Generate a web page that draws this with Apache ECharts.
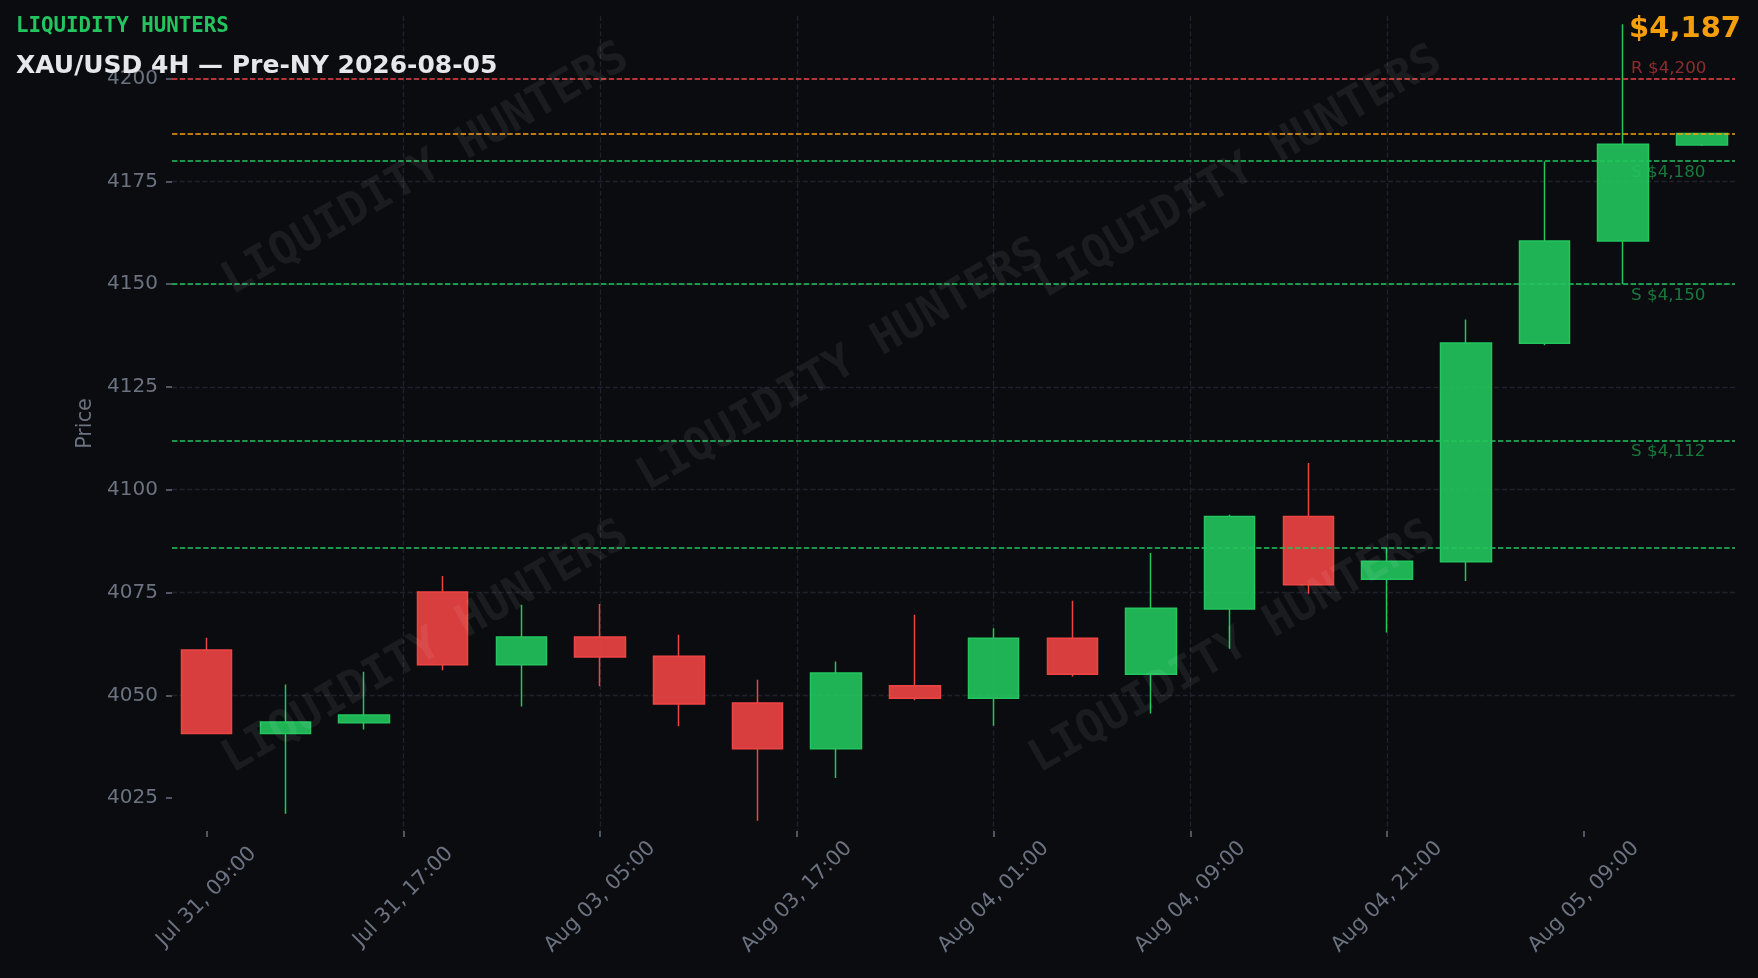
<!DOCTYPE html>
<html>
<head>
<meta charset="utf-8">
<script src="https://cdn.jsdelivr.net/npm/echarts@6/dist/echarts.min.js"></script>
<style>
html,body{margin:0;padding:0;background:#0b0c10;}
#chart{width:1758px;height:978px;}
</style>
</head>
<body>
<div id="chart"></div>
<script>
// ---- data ----
const candleTimes = ['Jul 31 09:00','Jul 31 13:00','Jul 31 17:00','Jul 31 21:00','Aug 03 01:00','Aug 03 05:00','Aug 03 09:00','Aug 03 13:00','Aug 03 17:00','Aug 03 21:00','Aug 04 01:00','Aug 04 05:00','Aug 04 09:00','Aug 04 13:00','Aug 04 17:00','Aug 04 21:00','Aug 05 01:00','Aug 05 05:00','Aug 05 09:00','Aug 05 13:00'];
const opens  = [4061.0,4040.7,4043.3,4075.1,4057.4,4064.2,4059.5,4048.1,4037.0,4052.3,4049.3,4063.9,4055.1,4071.0,4093.5,4078.2,4082.5,4135.6,4160.5,4183.8];
const closes = [4040.7,4043.5,4045.2,4057.4,4064.2,4059.3,4047.9,4037.0,4055.4,4049.3,4063.9,4055.1,4071.2,4093.5,4076.9,4082.6,4135.7,4160.5,4184.0,4186.6];
const lows   = [4040.5,4021.2,4041.7,4056.1,4047.3,4052.2,4042.5,4019.5,4029.9,4048.8,4042.6,4054.6,4045.6,4061.3,4074.7,4065.3,4077.8,4135.1,4150.0,4183.6];
const highs  = [4064.0,4052.6,4055.7,4079.0,4072.0,4072.2,4064.7,4053.8,4058.2,4069.6,4066.3,4073.0,4084.6,4093.9,4106.5,4086.0,4141.4,4179.8,4213.2,4186.8];

const xTickValues = [0, 2.5, 5, 7.5, 10, 12.5, 15, 17.5];
const xTickLabels = ['Jul 31, 09:00','Jul 31, 17:00','Aug 03, 05:00','Aug 03, 17:00','Aug 04, 01:00','Aug 04, 09:00','Aug 04, 21:00','Aug 05, 09:00'];
const yTickValues = [4025, 4050, 4075, 4100, 4125, 4150, 4175, 4200];

const resistanceLevels = [4200];
const resistanceLabels = ['R $4,200'];
const supportLevels = [4180, 4150, 4112, 4086];
const supportLabels = ['S $4,180', 'S $4,150', 'S $4,112', ''];

const brandText = 'LIQUIDITY HUNTERS';
const titleText = 'XAU/USD 4H \u2014 Pre-NY 2026-08-05';
const watermarkText = 'LIQUIDITY HUNTERS';

// ---- build ----
const GREEN = '#22c55e', RED = '#ef4444', ORANGE = '#f59e0b';
const lastClose = closes[closes.length - 1];
const priceText = '$' + Math.round(lastClose).toLocaleString('en-US');
const levelLabelX = candleTimes.length - 1 - 0.9;

const candleData = opens.map((o, i) => [i, o, closes[i], lows[i], highs[i]]);

const levelLines = [];
resistanceLevels.forEach(v => levelLines.push({ yAxis: v, lineStyle: { color: RED } }));
levelLines.push({ yAxis: lastClose, lineStyle: { color: ORANGE } });
supportLevels.forEach(v => levelLines.push({ yAxis: v, lineStyle: { color: GREEN } }));

const labelPoints = [];
resistanceLevels.forEach((v, i) => labelPoints.push({
  value: [levelLabelX, v],
  label: { formatter: resistanceLabels[i], color: 'rgba(239,68,68,0.72)', verticalAlign: 'bottom', offset: [0, -1] }
}));
supportLevels.forEach((v, i) => { if (supportLabels[i]) labelPoints.push({
  value: [levelLabelX, v],
  label: { formatter: supportLabels[i], color: 'rgba(34,197,94,0.72)', verticalAlign: 'top', offset: [0, 3] }
}); });

const wmPos = [[426, 170], [841, 366], [1239, 173], [426, 648], [1233, 648]];

const fontUI = '"DejaVu Sans", sans-serif';
const tickColor = '#6b7280';

const chart = echarts.init(document.getElementById('chart'), null, { renderer: 'canvas' });
chart.setOption({
  animation: false,
  backgroundColor: '#0b0c10',
  grid: { left: 172, right: 23, top: 16, bottom: 147, containLabel: false },
  xAxis: {
    type: 'value', min: -0.44, max: 19.42, minInterval: 2.5, maxInterval: 2.5,
    axisLine: { show: false, onZero: false },
    axisTick: { show: true, length: 6, lineStyle: { color: '#676d7c', width: 1.5 }, customValues: xTickValues },
    axisLabel: {
      customValues: xTickValues,
      formatter: v => { const k = xTickValues.findIndex(t => Math.abs(t - v) < 1e-6); return k >= 0 ? xTickLabels[k] : ''; },
      rotate: 45, align: 'center', verticalAlign: 'middle', margin: 66,
      color: tickColor, fontSize: 20.8, fontFamily: fontUI
    },
    splitLine: { show: true, showMinLine: false, showMaxLine: false, lineStyle: { color: '#20222b', width: 1.3, type: [5, 2.6] } }
  },
  yAxis: {
    type: 'value', min: 4017, max: 4215.2, minInterval: 25, maxInterval: 25, scale: true,
    name: 'Price', nameLocation: 'middle', nameRotate: 90, nameGap: 69,
    nameTextStyle: { color: tickColor, fontSize: 20.8, fontFamily: fontUI },
    axisLine: { show: false, onZero: false },
    axisTick: { show: true, length: 6, lineStyle: { color: '#676d7c', width: 1.5 }, customValues: yTickValues },
    axisLabel: { customValues: yTickValues, formatter: v => String(Math.round(v)), margin: 14, color: tickColor, fontSize: 20, fontFamily: fontUI },
    splitLine: { show: true, showMinLine: false, showMaxLine: false, lineStyle: { color: '#20222b', width: 1.3, type: [5, 2.6] } }
  },
  series: [
    {
      type: 'candlestick', name: 'XAU/USD', z: 2,
      encode: { x: 0, y: [1, 2, 3, 4] },
      data: candleData,
      barWidth: 51,
      itemStyle: {
        color: 'rgba(34,197,94,0.9)', color0: 'rgba(239,68,68,0.9)',
        borderColor: GREEN, borderColor0: RED, borderWidth: 1.5
      }
    },
    {
      type: 'line', name: 'levels', data: [], z: 5, silent: true,
      markLine: {
        silent: true, symbol: ['none', 'none'], animation: false,
        label: { show: false },
        lineStyle: { type: [5.4, 2.4], width: 1.5 },
        data: levelLines
      }
    },
    {
      type: 'scatter', name: 'levelLabels', z: 6, silent: true, symbolSize: 0,
      data: labelPoints,
      label: { show: true, position: [0, 0], align: 'left', fontSize: 16.7, fontFamily: fontUI }
    }
  ],
  graphic: [
    ...wmPos.map(p => ({
      type: 'text', x: p[0], y: p[1], rotation: Math.PI / 6, z: 100, silent: true,
      style: { text: watermarkText, font: 'bold 45px "DejaVu Sans Mono", monospace', fill: 'rgba(255,255,255,0.065)', align: 'center', verticalAlign: 'middle' }
    })),
    { type: 'text', x: 16, y: 27, z: 110, style: { text: brandText, font: 'bold 20.8px "DejaVu Sans Mono", monospace', fill: GREEN, align: 'left', verticalAlign: 'middle' } },
    { type: 'text', x: 16, y: 66, z: 110, style: { text: titleText, font: 'bold 25px "DejaVu Sans", sans-serif', fill: '#e5e7eb', align: 'left', verticalAlign: 'middle' } },
    { type: 'text', x: 1741, y: 29, z: 110, style: { text: priceText, font: 'bold 29px "DejaVu Sans", sans-serif', fill: ORANGE, align: 'right', verticalAlign: 'middle' } }
  ]
});
</script>
</body>
</html>
